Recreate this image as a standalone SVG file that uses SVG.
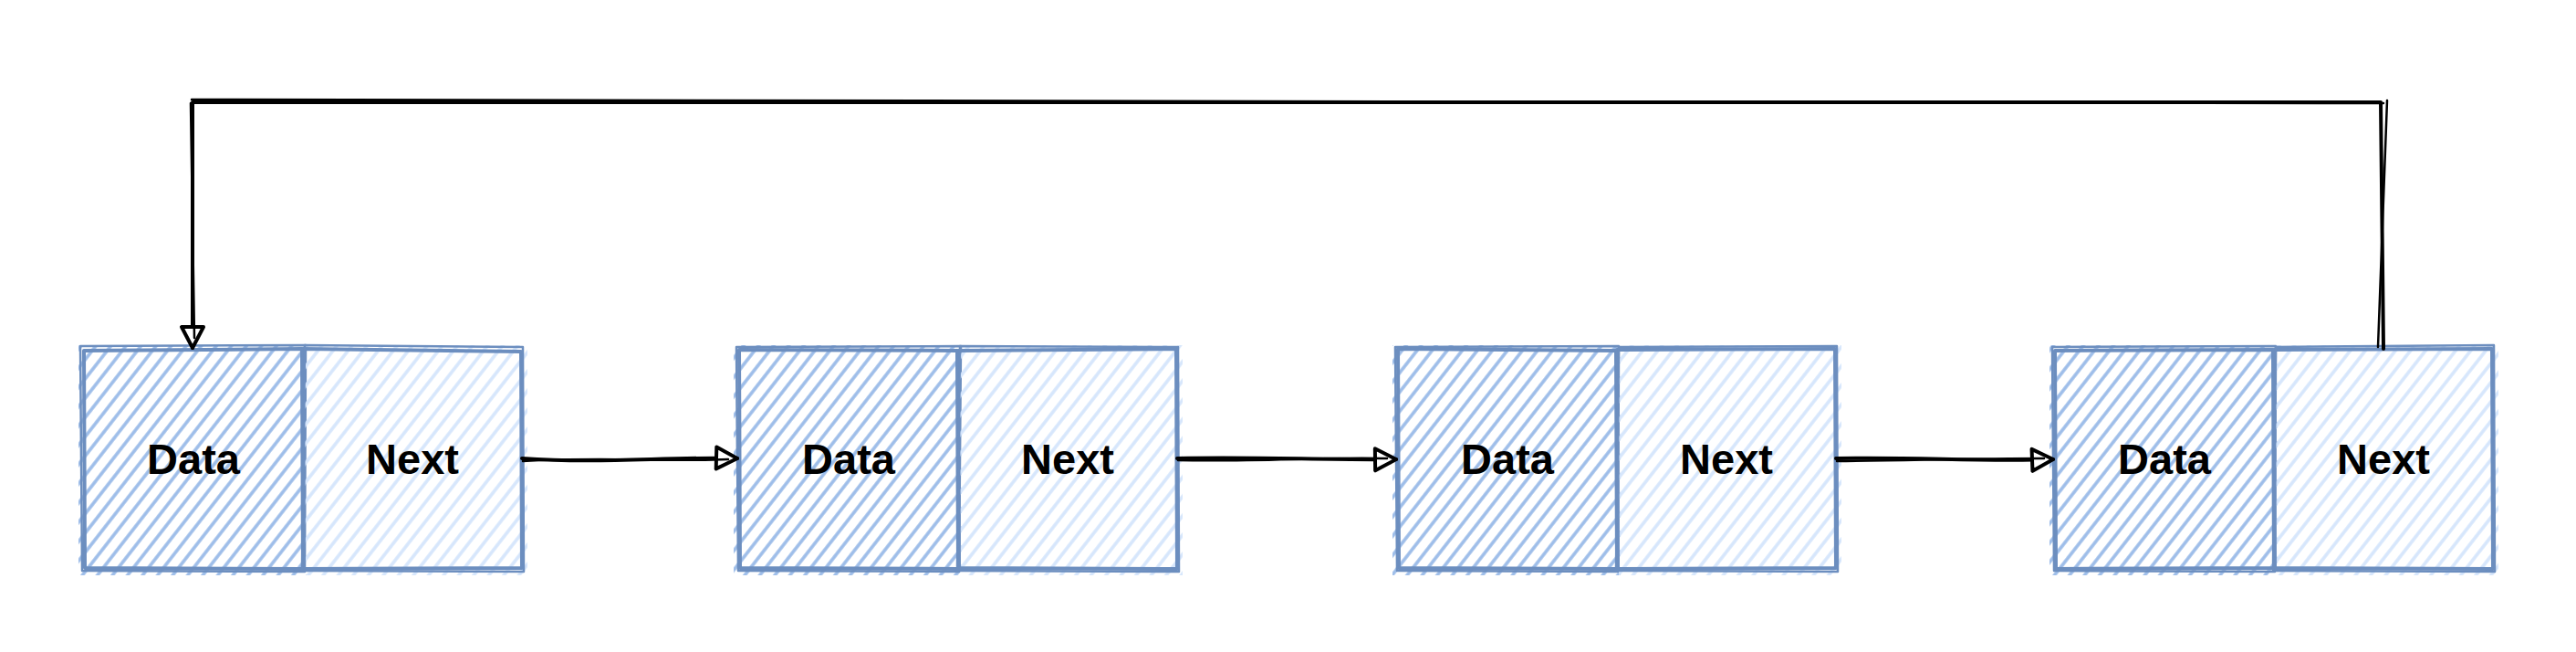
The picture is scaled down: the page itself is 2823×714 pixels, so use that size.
<svg xmlns="http://www.w3.org/2000/svg" width="2823" height="714" viewBox="0 0 2823 714">
<style>
.b{fill:none;stroke:#6c8ebf;stroke-width:4;stroke-linejoin:round}
.b2{fill:none;stroke:#6c8ebf;stroke-width:2.5;stroke-linejoin:round}
.t{font-family:"Liberation Sans",Arial,sans-serif;font-weight:bold;font-size:47px;text-anchor:middle;fill:#000}
.c{fill:none;stroke:#000;stroke-width:4;stroke-linecap:round;stroke-linejoin:round}
.c2{fill:none;stroke:#000;stroke-width:2.5;stroke-linecap:round}
</style>
<defs>
<pattern id="hd" patternUnits="userSpaceOnUse" width="13" height="13" patternTransform="rotate(38)">
<line x1="4" y1="0" x2="4" y2="13" stroke="#9dbde9" stroke-width="3.6"/>
</pattern>
<pattern id="hn" patternUnits="userSpaceOnUse" width="13" height="13" patternTransform="rotate(38)">
<line x1="4" y1="0" x2="4" y2="13" stroke="#d6e6fc" stroke-width="3.6"/>
</pattern>
<marker id="ar" markerUnits="userSpaceOnUse" viewBox="-4 -4 32 32" markerWidth="32" markerHeight="32" refX="23" refY="12" orient="auto">
<path d="M0,0 L23,12 L0,24 Z" fill="#fff" stroke="#000" stroke-width="4" stroke-linejoin="round"/>
</marker>
</defs>

<g id="node-data-1">
<rect x="86" y="378" width="250" height="252" fill="url(#hd)"/>
<path class="b" d="M92 384 L331 382 L332 623 L93 622 Z"/>
<path class="b2" d="M88 379 L335 378 L334 626 L90 625 Z"/>
<text class="t" x="212" y="519">Data</text>
</g>
<g id="node-next-1">
<rect x="334" y="378" width="244" height="252" fill="url(#hn)"/>
<path class="b" d="M332 382 L571 385 L572 622 L333 623 Z"/>
<path class="b2" d="M334 378 L573 380 L574 626 L331 625 Z"/>
<text class="t" x="452" y="519">Next</text>
</g>

<g id="node-data-2">
<rect x="804" y="378" width="250" height="252" fill="url(#hd)"/>
<path class="b" d="M810 383 L1049 384 L1050 623 L811 622 Z"/>
<path class="b2" d="M807 380 L1053 379 L1051 626 L809 625 Z"/>
<text class="t" x="930" y="519">Data</text>
</g>
<g id="node-next-2">
<rect x="1052" y="378" width="244" height="252" fill="url(#hn)"/>
<path class="b" d="M1050 384 L1289 382 L1290 623 L1051 622 Z"/>
<path class="b2" d="M1052 379 L1291 380 L1292 626 L1049 625 Z"/>
<text class="t" x="1170" y="519">Next</text>
</g>

<g id="node-data-3">
<rect x="1526" y="378" width="250" height="252" fill="url(#hd)"/>
<path class="b" d="M1532 382 L1771 384 L1772 623 L1533 622 Z"/>
<path class="b2" d="M1529 380 L1774 379 L1773 626 L1531 625 Z"/>
<text class="t" x="1652" y="519">Data</text>
</g>
<g id="node-next-3">
<rect x="1774" y="378" width="244" height="252" fill="url(#hn)"/>
<path class="b" d="M1772 383 L2011 382 L2012 622 L1773 623 Z"/>
<path class="b2" d="M1774 380 L2013 379 L2014 626 L1771 625 Z"/>
<text class="t" x="1892" y="519">Next</text>
</g>

<g id="node-data-4">
<rect x="2246" y="378" width="250" height="252" fill="url(#hd)"/>
<path class="b" d="M2252 384 L2491 383 L2492 622 L2253 623 Z"/>
<path class="b2" d="M2249 380 L2494 379 L2493 626 L2251 625 Z"/>
<text class="t" x="2372" y="519">Data</text>
</g>
<g id="node-next-4">
<rect x="2494" y="378" width="244" height="252" fill="url(#hn)"/>
<path class="b" d="M2492 383 L2731 382 L2732 623 L2493 622 Z"/>
<path class="b2" d="M2494 380 L2733 378 L2734 626 L2491 625 Z"/>
<text class="t" x="2612" y="519">Next</text>
</g>

<g id="connectors">
<path class="c" d="M572 502 C 660 508, 730 500, 808 502" marker-end="url(#ar)"/>
<path class="c2" d="M573 505 C 660 500, 730 506, 798 503"/>
<path class="c" d="M1290 502 C 1380 500, 1450 504, 1530 503" marker-end="url(#ar)"/>
<path class="c2" d="M1291 504 C 1380 506, 1450 500, 1520 502"/>
<path class="c" d="M2012 502 C 2100 500, 2170 506, 2250 503" marker-end="url(#ar)"/>
<path class="c2" d="M2013 505 C 2100 504, 2170 502, 2240 502"/>
<path class="c" d="M2612 382 L2609 112 L211 112 L211 381" marker-end="url(#ar)"/>
<path class="c2" d="M2606 380 L2616 110 M2612 113 L210 109 M209 113 L213 370"/>
</g>
</svg>
